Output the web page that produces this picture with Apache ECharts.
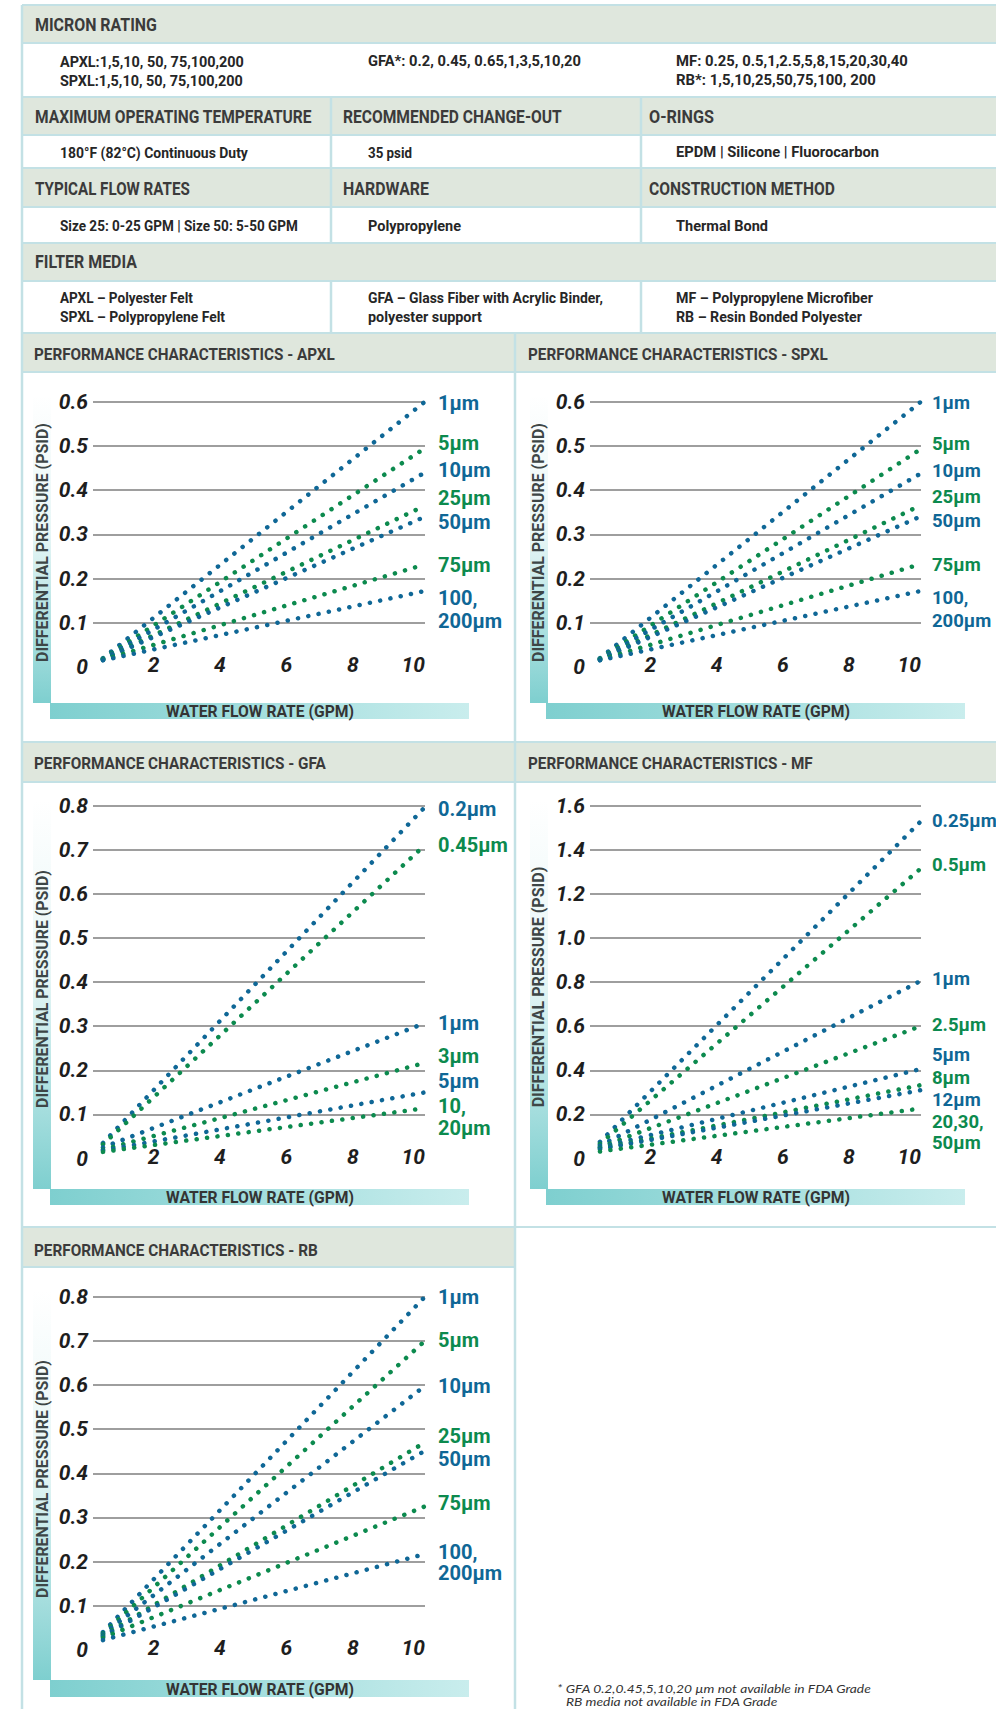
<!DOCTYPE html>
<html>
<head>
<meta charset="utf-8">
<title>Filter performance characteristics</title>
<script src="https://cdn.jsdelivr.net/npm/echarts@6/dist/echarts.min.js"></script>
<style>
  html, body { margin: 0; padding: 0; background: #fff; }
  #main { width: 996px; height: 1709px; }
</style>
</head>
<body>
<div id="main"></div>
<script>
// flow rate (GPM) where each dotted line starts and ends
var flowRange = [0.3, 10];
var xTickLabels = [2, 4, 6, 8, 10];

// APXL
var apxlLabels = ['1µm', '5µm', '10µm', '25µm', '50µm', '75µm', '100,\n200µm'];
var apxlStart = [0.020, 0.019, 0.018, 0.017, 0.017, 0.016, 0.015];
var apxlEnd = [0.600, 0.495, 0.440, 0.365, 0.340, 0.232, 0.172];

// SPXL
var spxlLabels = ['1µm', '5µm', '10µm', '25µm', '50µm', '75µm', '100,\n200µm'];
var spxlStart = [0.020, 0.019, 0.018, 0.017, 0.017, 0.016, 0.015];
var spxlEnd = [0.600, 0.493, 0.438, 0.366, 0.341, 0.233, 0.172];

// GFA
var gfaLabels = ['0.2µm', '0.45µm', '1µm', '3µm', '5µm', '10,\n20µm'];
var gfaStart = [0.035, 0.032, 0.025, 0.020, 0.018, 0.015];
var gfaEnd = [0.797, 0.711, 0.307, 0.217, 0.150, 0.114];

// MF
var mfLabels = ['0.25µm', '0.5µm', '1µm', '2.5µm', '5µm', '8µm', '12µm', '20,30,\n50µm'];
var mfStart = [0.075, 0.066, 0.058, 0.051, 0.050, 0.045, 0.042, 0.032];
var mfEnd = [1.530, 1.316, 0.806, 0.601, 0.406, 0.333, 0.310, 0.227];

// RB
var rbLabels = ['1µm', '5µm', '10µm', '25µm', '50µm', '75µm', '100,\n200µm'];
var rbStart = [0.040, 0.037, 0.035, 0.032, 0.030, 0.027, 0.022];
var rbEnd = [0.800, 0.700, 0.598, 0.470, 0.451, 0.325, 0.217];

// y axis range per chart
var yMax = [0.6, 0.6, 0.8, 1.6, 0.8];
var yStep = [0.1, 0.1, 0.1, 0.2, 0.1];

// table above the charts
var tableTexts = [
  ['MICRON RATING', 35, 25, 122, 'h'],
  ['APXL:1,5,10, 50, 75,100,200', 60, 62, 184, 'b'],
  ['SPXL:1,5,10, 50, 75,100,200', 60, 81, 183, 'b'],
  ['GFA*: 0.2, 0.45, 0.65,1,3,5,10,20', 368, 62, 213, 'b'],
  ['MF: 0.25, 0.5,1,2.5,5,8,15,20,30,40', 676, 62, 232, 'b'],
  ['RB*: 1,5,10,25,50,75,100, 200', 676, 81, 200, 'b'],
  ['MAXIMUM OPERATING TEMPERATURE', 35, 117, 277, 'h'],
  ['RECOMMENDED CHANGE-OUT', 343, 117, 219, 'h'],
  ['O-RINGS', 649, 117, 65, 'h'],
  ['180°F (82°C) Continuous Duty', 60, 153, 188, 'b'],
  ['35 psid', 368, 153, 44, 'b'],
  ['EPDM | Silicone | Fluorocarbon', 676, 153, 203, 'b'],
  ['TYPICAL FLOW RATES', 35, 189, 155, 'h'],
  ['HARDWARE', 343, 189, 86, 'h'],
  ['CONSTRUCTION METHOD', 649, 189, 186, 'h'],
  ['Size 25: 0-25 GPM | Size 50: 5-50 GPM', 60, 226, 238, 'b'],
  ['Polypropylene', 368, 226, 93, 'b'],
  ['Thermal Bond', 676, 226, 92, 'b'],
  ['FILTER MEDIA', 35, 262, 102, 'h'],
  ['APXL – Polyester Felt', 60, 298, 133, 'b'],
  ['SPXL – Polypropylene Felt', 60, 317, 165, 'b'],
  ['GFA – Glass Fiber with Acrylic Binder,', 368, 298, 235, 'b'],
  ['polyester support', 368, 317, 114, 'b'],
  ['MF – Polypropylene Microfiber', 676, 298, 197, 'b'],
  ['RB – Resin Bonded Polyester', 676, 317, 186, 'b'],
  ['PERFORMANCE CHARACTERISTICS - APXL', 34, 354, 301, 'p'],
  ['PERFORMANCE CHARACTERISTICS - SPXL', 528, 354, 300, 'p'],
  ['PERFORMANCE CHARACTERISTICS - GFA', 34, 763, 292, 'p'],
  ['PERFORMANCE CHARACTERISTICS - MF', 528, 763, 285, 'p'],
  ['PERFORMANCE CHARACTERISTICS - RB', 34, 1250, 284, 'p'],
  ['* GFA 0.2,0.45,5,10,20 µm not available in FDA Grade', 557, 1688, 315, 'f'],
  ['RB media not available in FDA Grade', 566, 1701, 212, 'f']
];

var blue = '#0f6796';
var green = '#0c8a4e';
var textFonts = {
  h: 'bold 18px Roboto',
  b: 'bold 14px Roboto',
  p: 'bold 17px Roboto',
  f: 'italic 12px Lato',
  t: 'bold 16px Roboto'
};
var textColors = { h: '#3b3b3b', b: '#262626', p: '#3b3b3b', f: '#333', t: '#3d4646' };

var measureCtx = document.createElement('canvas').getContext('2d');
function fitScale(text, font, width) {
  measureCtx.font = font;
  return width / measureCtx.measureText(text).width;
}

function makeSeries(gi, labels, start, end, dy, lh, fs, dx) {
  return labels.map(function (lab, i) {
    var c = i % 2 ? green : blue;
    return {
      type: 'line',
      name: lab.replace('\n', ' '),
      xAxisIndex: gi,
      yAxisIndex: gi,
      data: [[flowRange[0], start[i]], [flowRange[1], end[i]]],
      showSymbol: false,
      silent: true,
      lineStyle: { color: c, width: 4.5, type: [0.1, 10.4], cap: 'round' },
      endLabel: {
        show: true,
        formatter: lab,
        distance: 0,
        offset: [dx, dy[i]],
        align: 'left',
        verticalAlign: 'middle',
        color: c,
        fontFamily: 'Roboto',
        fontWeight: 'bold',
        fontSize: fs,
        lineHeight: lh
      }
    };
  });
}

var grids = [
  { left: 93, top: 401.7, width: 332, height: 265.3 },
  { left: 590, top: 401.7, width: 331, height: 265.3 },
  { left: 93, top: 805.7, width: 332, height: 352.8 },
  { left: 590, top: 805.7, width: 331, height: 352.8 },
  { left: 93, top: 1296.7, width: 332, height: 353.1 }
];

var axisFont = { fontFamily: 'Roboto', fontStyle: 'italic', fontWeight: 'bold', fontSize: 21, color: '#1e1e1e' };

var xAxes = grids.map(function (g, i) {
  return {
    gridIndex: i, type: 'value', min: 0, max: 10, interval: 2,
    axisLine: { show: false }, axisTick: { show: false }, splitLine: { show: false },
    axisLabel: Object.assign({
      showMinLabel: false, align: 'right', verticalAlign: 'middle', margin: -2,
      formatter: function (v) { return xTickLabels.indexOf(v) >= 0 ? String(v) : ''; }
    }, axisFont)
  };
});

var yAxes = grids.map(function (g, i) {
  return {
    gridIndex: i, type: 'value', min: 0, max: yMax[i], interval: yStep[i],
    axisLine: { show: false }, axisTick: { show: false },
    splitLine: { show: true, showMinLine: false, lineStyle: { color: '#9e9e9e', width: 2 } },
    axisLabel: Object.assign({
      margin: 5,
      formatter: function (v) { return v === 0 ? '0' : v.toFixed(1); }
    }, axisFont)
  };
});

var series = [].concat(
  makeSeries(0, apxlLabels, apxlStart, apxlEnd, [1, -5, -2, -8, 5, 1, 19], 23, 20, 13),
  makeSeries(1, spxlLabels, spxlStart, spxlEnd, [1, -5, -2, -8, 5, 1, 19], 23, 18.5, 11),
  makeSeries(2, gfaLabels, gfaStart, gfaEnd, [2, 0, 0, -7, -11, 9], 22, 20, 13),
  makeSeries(3, mfLabels, mfStart, mfEnd, [0, -3, -2, -1, -14, -7, 10, 24], 21, 18.5, 11),
  makeSeries(4, rbLabels, rbStart, rbEnd, [0, -1, 0, -6, 8, -3, 8], 21, 20, 13)
);

// frame of the sheet
var frame = '#c3e1e5';
var bandFill = '#dfe7dd';
var graphics = [];
[[22, 5, 974, 38], [22, 97, 974, 38], [22, 168, 974, 39], [22, 243, 974, 38],
 [22, 333, 974, 39], [22, 742, 974, 40], [22, 1228, 493, 39]].forEach(function (b) {
  graphics.push({ type: 'rect', silent: true, shape: { x: b[0], y: b[1], width: b[2], height: b[3] }, style: { fill: bandFill } });
});
[5, 43, 97, 135, 168, 207, 243, 281, 333, 372, 742, 782, 1227].forEach(function (y) {
  graphics.push({ type: 'line', silent: true, shape: { x1: 22, y1: y, x2: 996, y2: y }, style: { stroke: frame, lineWidth: 2 } });
});
graphics.push({ type: 'line', silent: true, shape: { x1: 22, y1: 1267, x2: 515, y2: 1267 }, style: { stroke: frame, lineWidth: 2 } });
[[22, 5, 1709], [331, 97, 243], [641, 97, 243], [331, 281, 333], [641, 281, 333], [515, 333, 1709]].forEach(function (v) {
  graphics.push({ type: 'line', silent: true, shape: { x1: v[0], y1: v[1], x2: v[0], y2: v[2] }, style: { stroke: frame, lineWidth: 2.5 } });
});

// axis title bands
var bands = [
  { vx: 33, vTop: 395, vBot: 703, hx: 50, hw: 419, hy: 703, hh: 16, ycx: 42, ycy: 542.5, yw: 239, xcx: 260, xw: 188 },
  { vx: 530, vTop: 395, vBot: 703, hx: 546, hw: 419, hy: 703, hh: 16, ycx: 538.5, ycy: 542.5, yw: 239, xcx: 756, xw: 188 },
  { vx: 33, vTop: 800, vBot: 1189, hx: 50, hw: 419, hy: 1189, hh: 16, ycx: 42, ycy: 989, yw: 238, xcx: 260, xw: 188 },
  { vx: 530, vTop: 800, vBot: 1189, hx: 546, hw: 419, hy: 1189, hh: 16, ycx: 538.5, ycy: 987, yw: 241, xcx: 756, xw: 188 },
  { vx: 33, vTop: 1290, vBot: 1680, hx: 50, hw: 419, hy: 1680, hh: 17, ycx: 42, ycy: 1479, yw: 238, xcx: 260, xw: 188 }
];
bands.forEach(function (b) {
  graphics.push({
    type: 'rect', silent: true,
    shape: { x: b.vx, y: b.vTop, width: 18, height: b.vBot - b.vTop },
    style: { fill: { type: 'linear', x: 0, y: 0, x2: 0, y2: 1, colorStops: [
      { offset: 0, color: 'rgba(126,207,207,0)' },
      { offset: 0.45, color: 'rgba(126,207,207,0.18)' },
      { offset: 1, color: 'rgba(126,207,207,1)' }] } }
  });
  graphics.push({
    type: 'rect', silent: true,
    shape: { x: b.hx, y: b.hy, width: b.hw, height: b.hh },
    style: { fill: { type: 'linear', x: 0, y: 0, x2: 1, y2: 0, colorStops: [
      { offset: 0, color: '#7ecfcf' }, { offset: 1, color: '#c9eded' }] } }
  });
  var yt = 'DIFFERENTIAL PRESSURE (PSID)';
  graphics.push({
    type: 'text', silent: true, x: b.ycx, y: b.ycy, rotation: Math.PI / 2,
    scaleX: fitScale(yt, textFonts.t, b.yw),
    style: { text: yt, font: textFonts.t, fill: textColors.t, align: 'center', verticalAlign: 'middle' }
  });
  var xt = 'WATER FLOW RATE (GPM)';
  var xf = 'bold 17px Roboto';
  graphics.push({
    type: 'text', silent: true, x: b.xcx, y: b.hy + b.hh / 2 + 0.5,
    scaleX: fitScale(xt, xf, b.xw),
    style: { text: xt, font: xf, fill: '#343434', align: 'center', verticalAlign: 'middle' }
  });
});

tableTexts.forEach(function (t) {
  var f = textFonts[t[4]];
  graphics.push({
    type: 'text', silent: true, x: t[1], y: t[2],
    scaleX: fitScale(t[0], f, t[3]),
    style: { text: t[0], font: f, fill: textColors[t[4]], align: 'left', verticalAlign: 'middle' }
  });
});

var myChart = echarts.init(document.getElementById('main'), null, { renderer: 'svg' });
var option = {
  backgroundColor: '#ffffff',
  animation: false,
  grid: grids,
  xAxis: xAxes,
  yAxis: yAxes,
  series: series,
  graphic: { elements: graphics }
};
myChart.setOption(option);
window.addEventListener('resize', function () {
  myChart.resize();
});
</script>
</body>
</html>
